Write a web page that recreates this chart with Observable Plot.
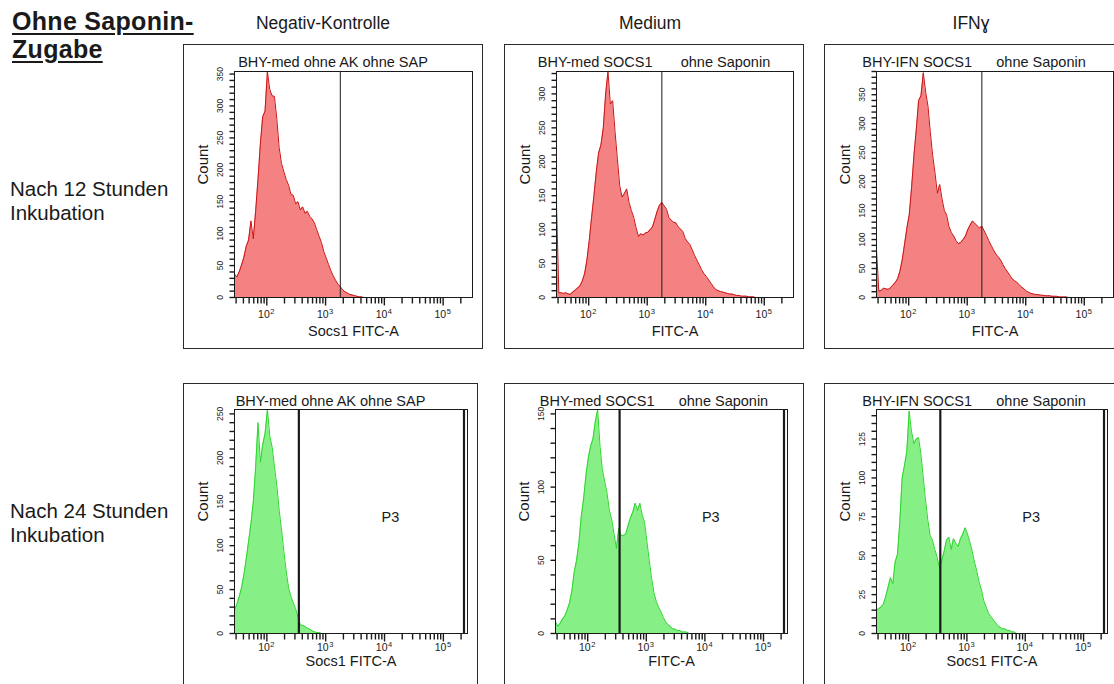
<!DOCTYPE html>
<html>
<head>
<meta charset="utf-8">
<script src="https://cdn.jsdelivr.net/npm/d3@7"></script>
<script src="https://cdn.jsdelivr.net/npm/@observablehq/plot@0.6"></script>
<style>
  html, body { margin: 0; padding: 0; background: #fff; }
  #page { position: relative; width: 1114px; height: 684px; overflow: hidden; background: #fff;
          font-family: "Liberation Sans", Arial, sans-serif; color: #1a1a1a; }
  .t { position: absolute; white-space: pre; }
  .box { position: absolute; border: 1px solid #2a2a2a; box-sizing: border-box; pointer-events: none; }
</style>
</head>
<body>
<div id="page"></div>
<script>
// ---------- DATA ----------
const mainHeader = "Ohne Saponin-\nZugabe";
const columnHeaders = ["Negativ-Kontrolle", "Medium", "IFNɣ"];
const rowLabels = ["Nach 12 Stunden\nInkubation", "Nach 24 Stunden\nInkubation"];
const panelTitles = [
  "BHY-med ohne AK ohne SAP",
  "BHY-med SOCS1       ohne Saponin",
  "BHY-IFN SOCS1      ohne Saponin",
  "BHY-med ohne AK ohne SAP",
  "BHY-med SOCS1      ohne Saponin",
  "BHY-IFN SOCS1      ohne Saponin"
];
const xAxisLabels = ["Socs1 FITC-A", "FITC-A", "FITC-A", "Socs1 FITC-A", "FITC-A", "Socs1 FITC-A"];
const yAxisLabel = "Count";

// histogram bin centres, log10(FITC-A)
const binLog10 = [
  1.45,1.49,1.53,1.57,1.61,1.65,1.69,1.73,1.77,1.81,
  1.85,1.89,1.93,1.97,2.01,2.05,2.09,2.13,2.17,2.21,
  2.25,2.29,2.33,2.37,2.41,2.45,2.49,2.53,2.57,2.61,
  2.65,2.69,2.73,2.77,2.81,2.85,2.89,2.93,2.97,3.01,
  3.05,3.09,3.13,3.17,3.21,3.25,3.29,3.33,3.37,3.41,
  3.45,3.49,3.53,3.57,3.61,3.65,3.69,3.73,3.77,3.81,
  3.85,3.89,3.93,3.97,4.01,4.05,4.09,4.13,4.17,4.21,
  4.25,4.29,4.33,4.37,4.41,4.45,4.49,4.53,4.57,4.61,
  4.65,4.69,4.73,4.77,4.81,4.85,4.89,4.93,4.97,5.01
];

// counts per bin
const negKontrolle12h = [
  37,32,40,51,63,80,90,120,92,135,
  185,240,283,292,354,326,316,315,280,235,
  210,197,185,176,162,160,147,150,137,142,
  132,135,127,123,117,106,96,86,72,62,
  52,42,34,27,21,17,12,9,7,5,
  4,3,2,1,1,0
];
const medium12h = [
  138,7,7,6,7,5,5,8,11,14,
  17,24,35,55,84,118,150,185,213,225,
  250,300,333,285,290,245,205,165,148,153,
  160,140,128,118,103,90,94,92,95,96,
  100,104,115,127,136,140,135,130,118,114,
  111,110,104,101,97,87,82,78,70,62,
  55,48,41,35,31,26,21,16,12,10,
  9,8,7,6,5,5,4,3,3,2,
  2,2,1,1,1,0,0
];
const ifn12h = [
  83,11,12,16,15,14,17,21,26,32,
  45,65,92,120,143,190,245,290,340,348,
  388,355,330,285,245,215,180,195,170,150,
  142,122,112,106,98,93,95,100,106,117,
  125,132,128,124,120,123,115,107,98,90,
  82,75,70,65,57,50,44,38,32,29,
  26,22,18,15,11,9,7,6,5,5,
  4,4,3,3,3,2,2,2,1,1,
  1,1,0
];
const negKontrolle24h = [
  27,33,42,52,67,85,105,125,150,190,
  240,195,215,228,255,225,212,190,168,140,
  118,93,70,52,42,35,28,18,10,9,
  8,6,5,3,2,1,1,0
];
const medium24h = [
  8,5,7,10,12,16,21,29,42,50,
  62,80,92,108,120,128,133,145,153,128,
  112,104,96,84,78,68,58,72,67,67,
  68,74,79,83,89,84,89,81,76,63,
  50,38,28,22,18,15,11,8,6,5,
  3,3,2,2,1,1,1,0
];
const ifn24h = [
  15,16,17,19,24,30,36,32,46,51,
  72,100,108,117,143,130,122,125,126,116,
  101,86,73,63,60,54,49,42,47,53,
  60,62,54,61,58,56,61,64,68,64,
  59,53,46,40,33,28,21,17,13,11,
  9,7,5,4,3,3,2,2,1,1,
  0
];

const yDomainMax = [354, 333, 390, 255, 153, 144];
const yTickLabels = [
  [0,50,100,150,200,250,300,350],
  [0,50,100,150,200,250,300],
  [0,50,100,150,200,250,300,350],
  [0,50,100,150,200,250],
  [0,50,100,150],
  [0,25,50,75,100,125]
];
const yMinorStep = [10, 10, 10, 10, 10, 5];

const xDomainRow = [[28.2, 316000], [28.2, 257000]];
const decadeTicks = [100, 1000, 10000, 100000];
const minorTicksX = [30,40,50,60,70,80,90,200,300,400,500,600,700,800,900,
  2000,3000,4000,5000,6000,7000,8000,9000,20000,30000,40000,50000,60000,70000,80000,90000,200000];

const gates12h = [1780];
const gates24h = [350, 224000];
const gateName = "P3";
const gateLabelFitc = 12600;

// ---------- LAYOUT ----------
const layouts = [
  {left:183, top:44,  w:300, h:305, ml:51, mt:27, mr:11, mb:52},
  {left:504, top:44,  w:300, h:305, ml:52, mt:27, mr:11, mb:52},
  {left:824, top:44,  w:300, h:305, ml:52, mt:27, mr:11, mb:52},
  {left:183, top:383, w:295, h:305, ml:51, mt:26, mr:11, mb:55},
  {left:504, top:383, w:300, h:305, ml:51, mt:26, mr:17, mb:55},
  {left:824, top:383, w:300, h:305, ml:52, mt:26, mr:17, mb:55}
];

const page = document.getElementById("page");
function addText(txt, css) {
  const d = document.createElement("div");
  d.className = "t";
  d.textContent = txt;
  Object.assign(d.style, css);
  page.appendChild(d);
  return d;
}

// headers
addText(mainHeader, {left:"12px", top:"7px", font:"bold 25px/28px 'Liberation Sans', Arial, sans-serif",
  textDecoration:"underline", textUnderlineOffset:"3px", letterSpacing:"0.3px"});
const colCenters = [323, 650, 971];
columnHeaders.forEach((h, j) => addText(h, {left:(colCenters[j]-150)+"px", top:"13px", width:"300px",
  textAlign:"center", font:"17.5px/20px 'Liberation Sans', Arial, sans-serif"}));
const rowTops = [177, 499];
rowLabels.forEach((r, j) => addText(r, {left:"10px", top:rowTops[j]+"px",
  font:"20.5px/23.5px 'Liberation Sans', Arial, sans-serif"}));

const series = [negKontrolle12h, medium12h, ifn12h, negKontrolle24h, medium24h, ifn24h];
const ink = "#1a1a1a";

series.forEach((counts, i) => {
  const L = layouts[i];
  const row = i < 3 ? 0 : 1;
  const [xmin, xmax] = xDomainRow[row];
  const plotW = L.w - L.ml - L.mr;
  const plotH = L.h - L.mt - L.mb;
  const yMax = yDomainMax[i];
  const countPerPx = yMax / plotH;
  const decadesPerPx = Math.log10(xmax / xmin) / plotW;
  const xAt = px => xmin * 10 ** (-px * decadesPerPx);   // FITC value px pixels left of the y axis
  const data = counts.map((c, k) => ({fitc: 10 ** binLog10[k], count: c}));
  const minorY = d3.range(0, yMax + 1e-9, yMinorStep[i]);
  const fill = row === 0 ? "#f58282" : "#86ef86";
  const stroke = row === 0 ? "#c81414" : "#2ed42e";
  const tickLabelDy = row === 0 ? 16 : 13;

  const marks = [
    Plot.areaY(data, {x: "fitc", y: "count", fill, clip: true}),
    Plot.lineY(data, {x: "fitc", y: "count", stroke, strokeWidth: 1, clip: true}),
    Plot.ruleX(row === 0 ? gates12h : gates24h, {stroke: ink, strokeWidth: row === 0 ? 1 : 2.2}),
    Plot.frame({stroke: ink}),
    // x tick marks below the axis
    Plot.link(minorTicksX, {x1: d => d, x2: d => d, y1: 0, y2: -6 * countPerPx, stroke: ink, strokeWidth: 1.4}),
    Plot.link(decadeTicks, {x1: d => d, x2: d => d, y1: 0, y2: -8 * countPerPx, stroke: ink, strokeWidth: 1.4}),
    Plot.text(decadeTicks, {x: d => d, text: () => "10", frameAnchor: "bottom", dy: tickLabelDy + 4,
      textAnchor: "end", dx: 3, fontSize: 10.5, fill: ink}),
    Plot.text(decadeTicks, {x: d => d, text: d => String(Math.round(Math.log10(d))), frameAnchor: "bottom",
      dy: tickLabelDy, textAnchor: "start", dx: 3.5, fontSize: 7.5, fill: ink}),
    // y tick marks left of the axis
    Plot.link(minorY, {y1: d => d, y2: d => d, x1: xmin, x2: xAt(5), stroke: ink, strokeWidth: 1.4}),
    Plot.text(yTickLabels[i], {y: d => d, text: d => String(d), frameAnchor: "left", dx: -14, rotate: -90,
      textAnchor: "middle", lineAnchor: "middle", fontSize: 8.5, fill: ink}),
    Plot.text([yAxisLabel], {frameAnchor: "left", dx: -31, rotate: -90, fontSize: 15, fill: ink}),
    Plot.text([xAxisLabels[i]], {frameAnchor: "bottom", dy: row === 0 ? 38 : 32, fontSize: 14.5, fill: ink})
  ];
  if (row === 1) {
    marks.push(Plot.text([{fitc: gateLabelFitc, name: gateName}], {x: "fitc", text: "name",
      frameAnchor: "middle", dy: -4, fontSize: 14.5, fill: ink}));
  }

  const svg = Plot.plot({
    width: L.w, height: L.h,
    marginLeft: L.ml, marginTop: L.mt, marginRight: L.mr, marginBottom: L.mb,
    x: {type: "log", domain: xDomainRow[row], label: null, axis: null},
    y: {domain: [0, yMax], label: null, axis: null},
    style: {fontFamily: "'Liberation Sans', Arial, sans-serif", background: "transparent", overflow: "visible", color: ink},
    marks
  });
  svg.style.position = "absolute";
  svg.style.left = L.left + "px";
  svg.style.top = L.top + "px";
  svg.style.maxWidth = "none";
  page.appendChild(svg);

  const box = document.createElement("div");
  box.className = "box";
  Object.assign(box.style, {left: L.left + "px", top: L.top + "px", width: L.w + "px", height: L.h + "px"});
  page.appendChild(box);

  addText(panelTitles[i], {left: L.left + "px", top: (L.top + 9.5) + "px", width: L.w + "px", textAlign: "center",
    font: "14.5px/17px 'Liberation Sans', Arial, sans-serif"});
});
</script>
</body>
</html>
